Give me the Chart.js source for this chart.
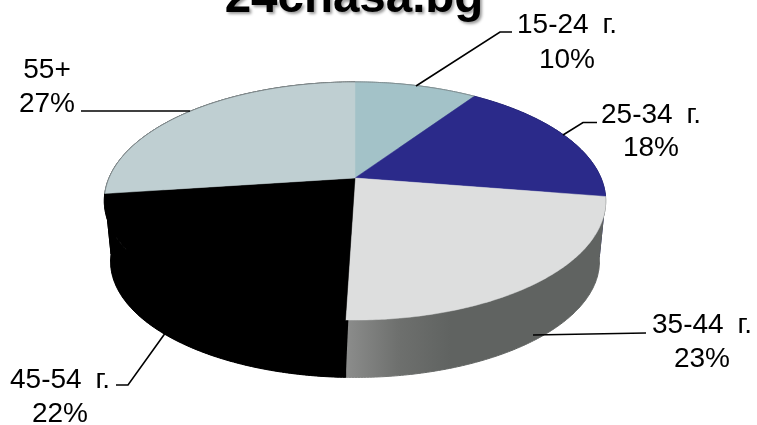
<!DOCTYPE html>
<html><head><meta charset="utf-8">
<style>html,body{margin:0;padding:0;background:#fff;overflow:hidden}canvas{display:block}</style>
<script src="https://cdn.jsdelivr.net/npm/chart.js@4"></script>
</head><body><canvas id="c" width="757" height="425"></canvas>
<script>
const chartTitle = "24chasa.bg";
const categories = ["15-24 г.", "25-34 г.", "35-44 г.", "45-54 г.", "55+"];
const shares = [9.5, 18, 23, 22.4, 27.1];
const shareLabels = ["10%", "18%", "23%", "22%", "27%"];
const topColors = ["#A3C2C8", "#2B2A8A", "#DDDEDE", "#000000", "#BFCFD2"];
const sideColors = ["#6E8388", "#1A1A5C", "#606361", "#000000", "#000000"];
// label placement: text centre x, first baseline, second baseline, leader polyline
const labelLayout = [
  {x:567, y1:33,  y2:68,  line:[[512,32],[500,32],[416,86]]},
  {x:651, y1:123, y2:156, line:[[597,122.5],[583,122.5],[563,135]]},
  {x:702, y1:333, y2:367, line:[[646,333],[533,335]]},
  {x:60,  y1:388, y2:422, line:[[116,385],[128,385],[166,332]]},
  {x:47,  y1:78,  y2:112, line:[[81,111],[190,111]]}
];
const view = {rx:246, ry:114.6, k:0.193, depth:61, sideScale:0.975};

function project(el, a, side){
  const ux=Math.cos(a), uy=Math.sin(a), w=1-view.k*uy, s=side?view.sideScale:1;
  return [el.x + view.rx*s*ux/w, el.y + view.ry*s*uy/w + (side?view.depth:0)];
}
function trace(ctx, el, a0, a1, side, first){
  const n=Math.max(2,Math.ceil(Math.abs(a1-a0)/0.01));
  for(let i=0;i<=n;i++){
    const p=project(el,a0+(a1-a0)*i/n,side);
    if(i===0&&first) ctx.moveTo(p[0],p[1]); else ctx.lineTo(p[0],p[1]);
  }
}
const pie3d = {
  id:'pie3d',
  beforeDatasetDraw(chart,args){
    const ctx=chart.ctx, arcs=chart.getDatasetMeta(args.index).data;
    ctx.save();
    // side wall
    arcs.forEach((el,i)=>{
      let fill=sideColors[i];
      if(i===2){
        const a=project(el,el.endAngle,false)[0];
        const g=ctx.createLinearGradient(a,0,a+105,0);
        g.addColorStop(0,'#8C8D8C');g.addColorStop(0.5,'#6E706E');g.addColorStop(1,sideColors[i]);
        fill=g;
      }
      ctx.beginPath();
      trace(ctx,el,el.startAngle,el.endAngle,false,true);
      trace(ctx,el,el.endAngle,el.startAngle,true,false);
      ctx.closePath();
      ctx.fillStyle=fill;ctx.fill();
      ctx.strokeStyle=fill;ctx.lineWidth=1;ctx.stroke();
      if(sideColors[i]===topColors[i]){
        // same colour on wall and face: close the rim so no seam shows
        ctx.beginPath();ctx.moveTo(el.x,el.y);
        trace(ctx,el,el.startAngle,el.endAngle,true,false);
        ctx.closePath();ctx.fill();
      }
    });
    // top faces
    arcs.forEach((el,i)=>{
      ctx.beginPath();ctx.moveTo(el.x,el.y);
      trace(ctx,el,el.startAngle,el.endAngle,false,false);
      ctx.closePath();
      ctx.fillStyle=topColors[i];ctx.fill();
      ctx.strokeStyle=topColors[i];ctx.lineWidth=0.5;ctx.stroke();
    });
    // thin grey rim on the far, pale slices
    [0,4].forEach(i=>{
      const el=arcs[i];
      ctx.beginPath();
      trace(ctx,el,el.startAngle,el.endAngle,false,true);
      ctx.strokeStyle='rgba(125,135,138,0.8)';ctx.lineWidth=1;ctx.stroke();
    });
    ctx.restore();
    return false;
  },
  afterDraw(chart){
    const ctx=chart.ctx;
    ctx.save();
    ctx.textAlign='center';ctx.textBaseline='alphabetic';
    ctx.font='bold 47.5px "Liberation Sans", Arial, sans-serif';
    ctx.shadowColor='rgba(0,0,0,0.4)';ctx.shadowBlur=3;ctx.shadowOffsetX=2;ctx.shadowOffsetY=2;
    ctx.fillStyle='#000';
    ctx.fillText(chartTitle,354,12);
    ctx.shadowColor='transparent';ctx.shadowBlur=0;ctx.shadowOffsetX=0;ctx.shadowOffsetY=0;
    ctx.font='28px "Liberation Sans", Arial, sans-serif';
    ctx.strokeStyle='#000';ctx.lineWidth=1.6;
    categories.forEach((name,i)=>{
      const l=labelLayout[i];
      ctx.beginPath();
      l.line.forEach((p,j)=>j?ctx.lineTo(p[0],p[1]):ctx.moveTo(p[0],p[1]));
      ctx.stroke();
      ctx.fillStyle='#000';
      ctx.wordSpacing='6px';
      ctx.fillText(name,l.x,l.y1);
      ctx.wordSpacing='0px';
      ctx.fillText(shareLabels[i],l.x,l.y2);
    });
    ctx.restore();
  }
};
new Chart(document.getElementById('c'),{
  type:'pie',
  data:{labels:categories,datasets:[{data:shares,backgroundColor:topColors,borderWidth:0}]},
  options:{
    responsive:false,animation:false,
    layout:{padding:{left:0,top:0,right:47,bottom:69}},
    plugins:{legend:{display:false},title:{display:false},tooltip:{enabled:false}}
  },
  plugins:[pie3d]
});
</script></body></html>
